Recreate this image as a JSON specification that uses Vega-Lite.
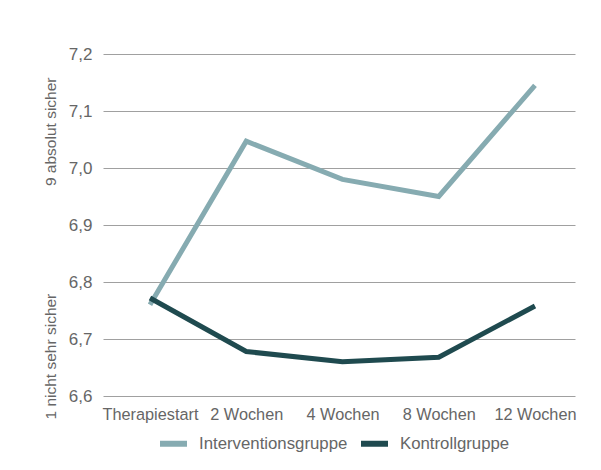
{
  "$schema": "https://vega.github.io/schema/vega-lite/v6.json",
  "autosize": "none",
  "width": 472,
  "height": 342,
  "padding": {"left": 103, "top": 54, "right": 26, "bottom": 74},
  "background": "white",
  "config": {
    "locale": {"number": {"decimal": ",", "thousands": ".", "grouping": [3], "currency": ["", " €"]}},
    "view": {"stroke": null},
    "font": "Liberation Sans",
    "text": {"font": "Liberation Sans"}
  },
  "data": {
    "values": [
      {"zeit": "Therapiestart", "gruppe": "Interventionsgruppe", "wert": 6.76},
      {"zeit": "2 Wochen", "gruppe": "Interventionsgruppe", "wert": 7.047},
      {"zeit": "4 Wochen", "gruppe": "Interventionsgruppe", "wert": 6.98},
      {"zeit": "8 Wochen", "gruppe": "Interventionsgruppe", "wert": 6.95},
      {"zeit": "12 Wochen", "gruppe": "Interventionsgruppe", "wert": 7.145},
      {"zeit": "Therapiestart", "gruppe": "Kontrollgruppe", "wert": 6.772},
      {"zeit": "2 Wochen", "gruppe": "Kontrollgruppe", "wert": 6.678},
      {"zeit": "4 Wochen", "gruppe": "Kontrollgruppe", "wert": 6.66},
      {"zeit": "8 Wochen", "gruppe": "Kontrollgruppe", "wert": 6.668},
      {"zeit": "12 Wochen", "gruppe": "Kontrollgruppe", "wert": 6.758}
    ]
  },
  "mark": {"type": "line", "strokeWidth": 5},
  "encoding": {
    "x": {
      "field": "zeit",
      "type": "ordinal",
      "sort": ["Therapiestart", "2 Wochen", "4 Wochen", "8 Wochen", "12 Wochen"],
      "scale": {"type": "point", "padding": 0.452, "align": 0.54},
      "axis": {
        "title": null,
        "labelAngle": 0,
        "domain": false,
        "ticks": false,
        "grid": false,
        "labelFont": "Liberation Sans",
        "labelFontSize": 16.3,
        "labelColor": "#666666",
        "labelPadding": 10
      }
    },
    "y": {
      "field": "wert",
      "type": "quantitative",
      "scale": {"domain": [6.6, 7.2], "nice": false, "zero": false},
      "axis": {
        "values": [6.6, 6.7, 6.8, 6.9, 7.0, 7.1, 7.2],
        "format": ".1f",
        "title": "1 nicht sehr sicher\u00a0\u00a0\u00a0\u00a0\u00a0\u00a0\u00a0\u00a0\u00a0\u00a0\u00a0\u00a0\u00a0\u00a0\u00a0\u00a0\u00a0\u00a0\u00a0\u00a0\u00a0\u00a0\u00a0\u00a0\u00a09 absolut sicher",
        "titleFont": "Liberation Sans",
        "titleFontSize": 15.5,
        "titleFontWeight": "normal",
        "titleColor": "#666666",
        "titlePadding": 10,
        "titleY": 194,
        "domain": false,
        "ticks": false,
        "grid": true,
        "gridColor": "#a0a0a0",
        "gridWidth": 1,
        "labelFont": "Liberation Sans",
        "labelFontSize": 17,
        "labelColor": "#666666",
        "labelPadding": 11
      }
    },
    "color": {
      "field": "gruppe",
      "type": "nominal",
      "scale": {"domain": ["Interventionsgruppe", "Kontrollgruppe"], "range": ["#86abb1", "#1f4a4f"]},
      "legend": {
        "title": null,
        "orient": "none",
        "legendX": 54,
        "legendY": 373,
        "direction": "horizontal",
        "padding": 0,
        "symbolType": "stroke",
        "symbolSize": 729,
        "symbolStrokeWidth": 6,
        "labelFont": "Liberation Sans",
        "labelFontSize": 16.8,
        "labelColor": "#666666",
        "labelOffset": 9,
        "columnPadding": 1
      }
    }
  }
}
